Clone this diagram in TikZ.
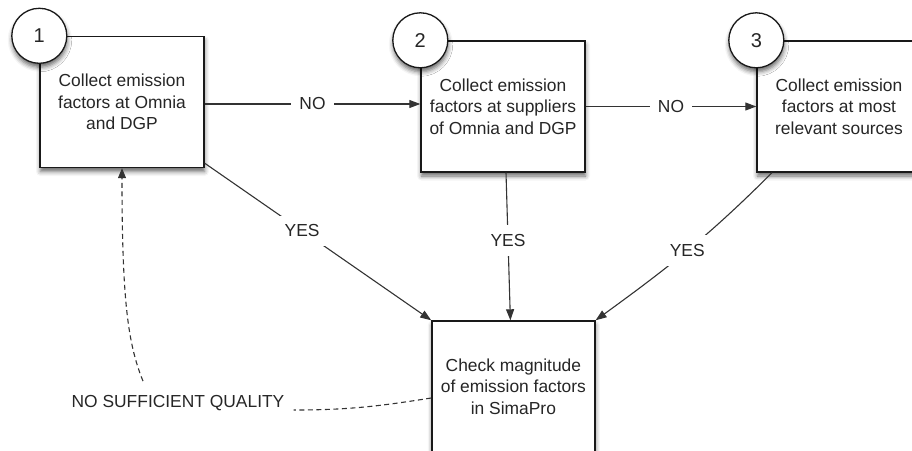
\documentclass[tikz,border=0pt]{standalone}
\usepackage{fontspec}
\setmainfont{Liberation Sans}
\usetikzlibrary{arrows.meta,shadows.blur}

\begin{document}
\begin{tikzpicture}[x=1pt,y=1pt,
  font=\fontsize{17.4}{21.5}\selectfont,
  every node/.style={text=black!85},
  softshadow/.style={blur shadow={shadow xshift=0.5pt, shadow yshift=-4pt,
      shadow blur radius=4.5pt, shadow opacity=60}},
  stepbox/.style={draw=black!90, line width=1.4pt, fill=white,
      minimum width=164pt, minimum height=131pt, inner sep=0pt,
      align=center, softshadow},
  numdisc/.style={circle, draw=black!90, line width=1.3pt, fill=white,
      minimum size=55pt, inner sep=0pt,
      font=\fontsize{20}{24}\selectfont, softshadow},
  link/.style={line width=1.1pt, draw=black!80,
      -{Triangle[length=11pt,width=8pt]}},
  tag/.style={fill=white, inner xsep=8pt, inner ysep=9pt},
  loopback/.style={line width=1.1pt, draw=black!80,
      dash pattern=on 5pt off 3.5pt}
]
\useasboundingbox (0,0) rectangle (912,-450);
\clip (0,0) rectangle (912,-450);

% process steps
\node[stepbox] (box1) at (122,-102)
  {Collect emission\\factors at Omnia\\and DGP};
\node[numdisc] (n1) at (box1.north west) {1};

\node[stepbox] (box2) at (503,-106.5)
  {Collect emission\\factors at suppliers\\of Omnia and DGP};
\node[numdisc] (n2) at (box2.north west) {2};

\node[stepbox] (box3) at (839,-106.5)
  {Collect emission\\factors at most\\relevant sources};
\node[numdisc] (n3) at (box3.north west) {3};

\node[stepbox, minimum width=163pt] (bot) at (513.4,-386.5)
  {Check magnitude\\of emission factors\\in SimaPro};

% fallback chain
\draw[link] (box1.east |- 0,-104) -- node[tag] {NO} (box2.west |- 0,-104);
\draw[link] (box2.east) -- node[tag] {NO} (box3.west);

% successful collection leads to the check
\draw[link] ([yshift=5pt]box1.south east) -- node[tag, pos=0.43] {YES}
  (bot.north west);
\draw[link] ([xshift=3pt]box2.south) -- node[tag, pos=0.46] {YES}
  ([xshift=-3pt]bot.north);
\draw[link] ([xshift=-67pt]box3.south) to[out=225,in=36] node[tag] {YES}
  (bot.north east);

% quality loop back to the first step
\node[inner sep=0pt] (lbl) at (178,-403) {NO SUFFICIENT QUALITY};
\draw[loopback] ([yshift=-11.5pt]bot.west) to[out=189,in=0]
  ([xshift=9pt,yshift=-7pt]lbl.east);
\draw[loopback, -{Triangle[length=10pt,width=8pt]}]
  ([xshift=-35pt,yshift=14pt]lbl.north)
  .. controls +(-15,37) and +(0,-133) .. (box1.south);
\end{tikzpicture}
\end{document}
